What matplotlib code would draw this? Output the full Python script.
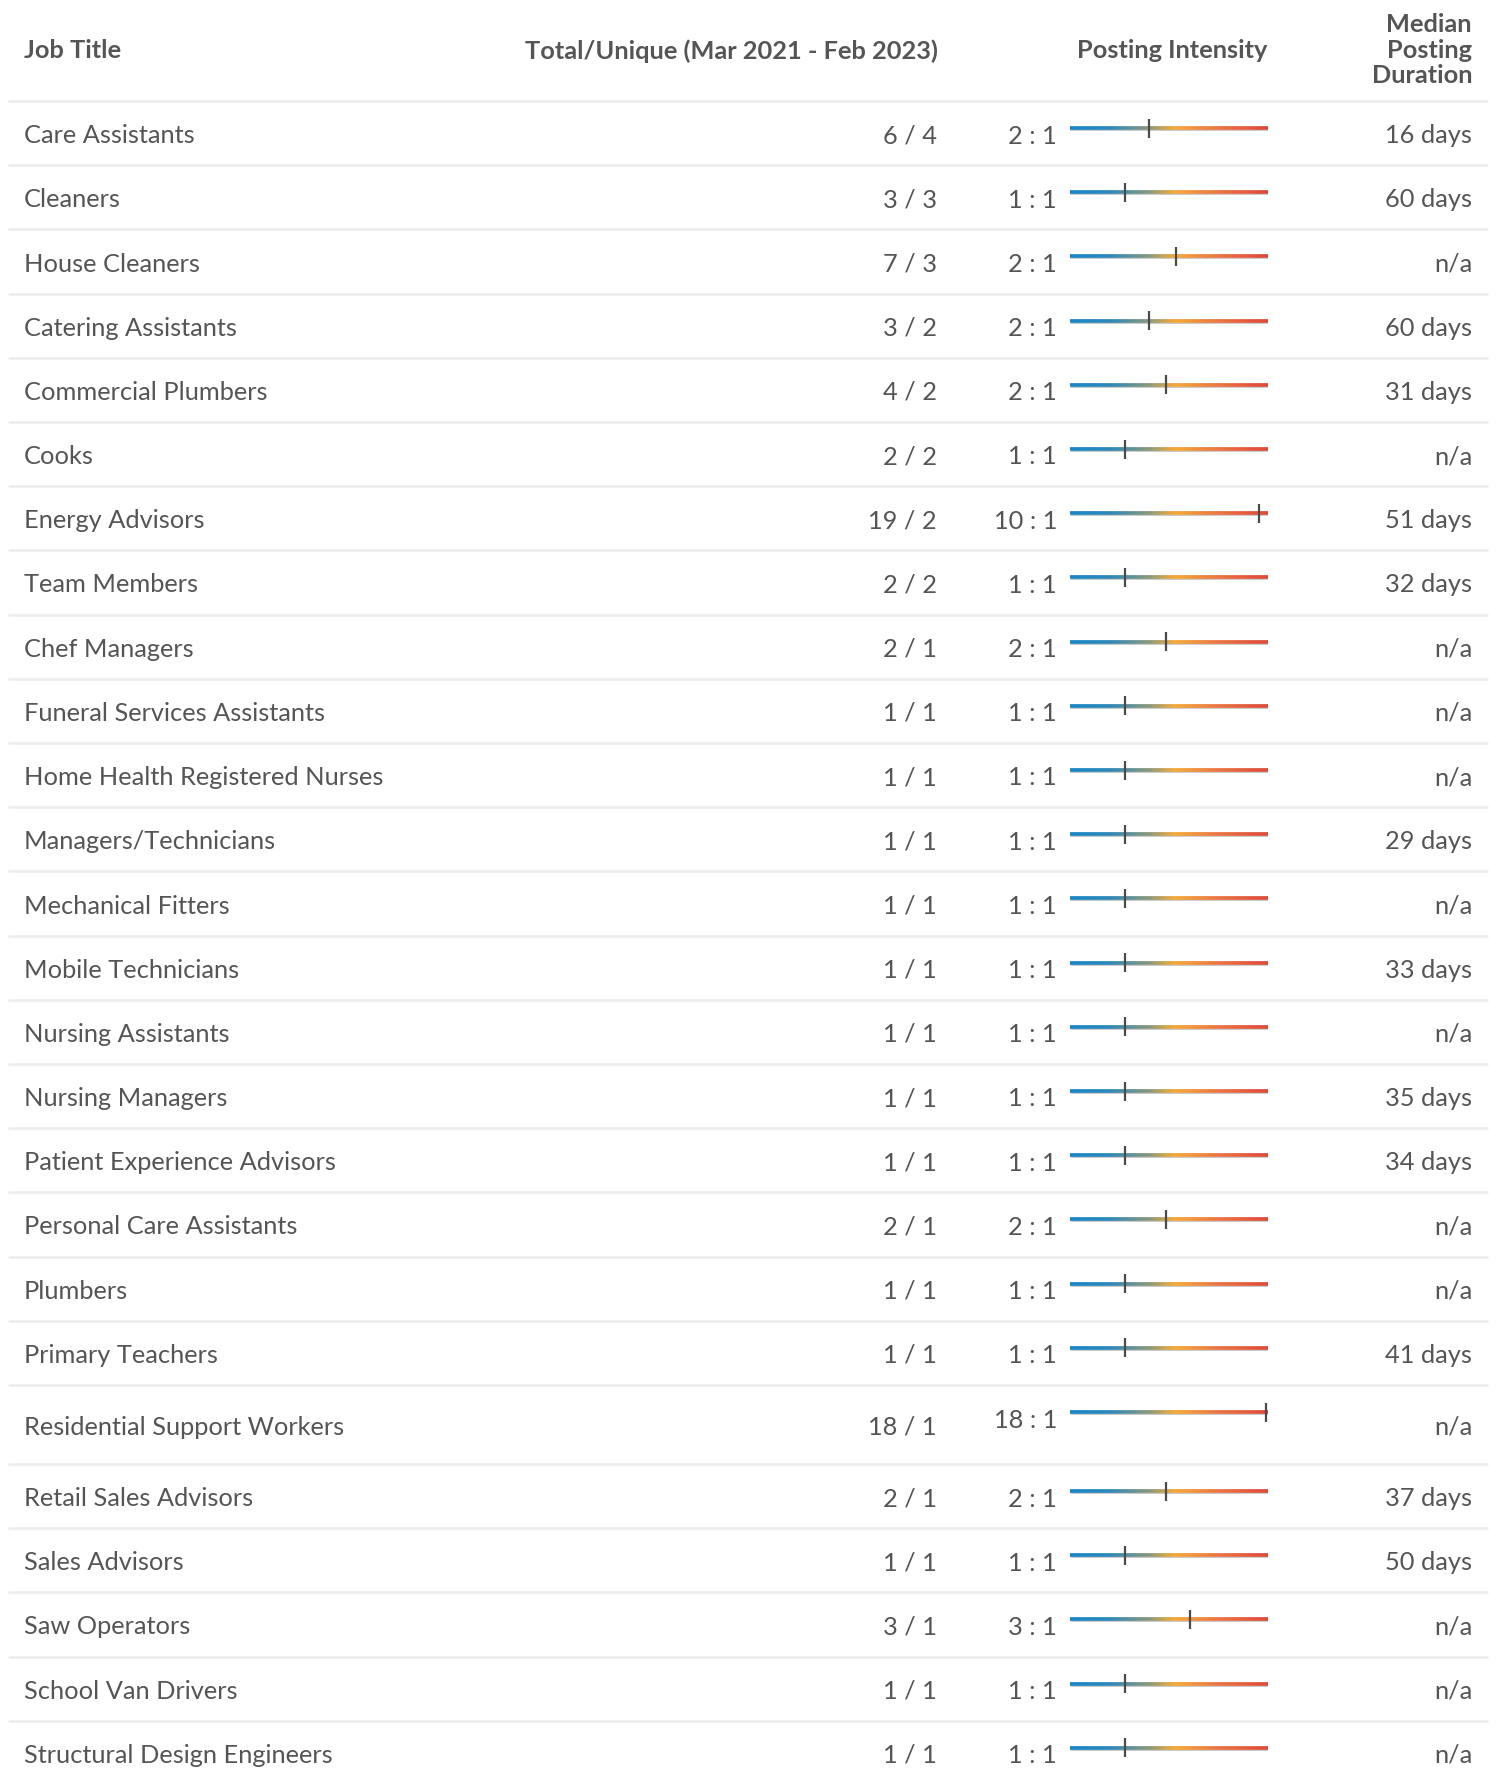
import math
import matplotlib
matplotlib.use("Agg")
import matplotlib.pyplot as plt
import numpy as np
from matplotlib.collections import LineCollection
from matplotlib.colors import LinearSegmentedColormap

# ---------------- data ----------------
job_titles = [
    "Care Assistants", "Cleaners", "House Cleaners", "Catering Assistants",
    "Commercial Plumbers", "Cooks", "Energy Advisors", "Team Members",
    "Chef Managers", "Funeral Services Assistants", "Home Health Registered Nurses",
    "Managers/Technicians", "Mechanical Fitters", "Mobile Technicians",
    "Nursing Assistants", "Nursing Managers", "Patient Experience Advisors",
    "Personal Care Assistants", "Plumbers", "Primary Teachers",
    "Residential Support Workers", "Retail Sales Advisors", "Sales Advisors",
    "Saw Operators", "School Van Drivers", "Structural Design Engineers",
]
total_postings = [6, 3, 7, 3, 4, 2, 19, 2, 2, 1, 1, 1, 1, 1, 1, 1, 1, 2, 1, 1, 18, 2, 1, 3, 1, 1]
unique_postings = [4, 3, 3, 2, 2, 2, 2, 2, 1, 1, 1, 1, 1, 1, 1, 1, 1, 1, 1, 1, 1, 1, 1, 1, 1, 1]
median_duration_days = [16, 60, None, 60, 31, None, 51, 32, None, None, None, 29, None, 33,
                        None, 35, 34, None, None, 41, None, 37, 50, None, None, None]

headers = ["Job Title", "Total/Unique (Mar 2021 - Feb 2023)", "Posting Intensity",
           ["Median", "Posting", "Duration"]]

# ---------------- layout ----------------
W, H = 1497, 1774
DPI = 100
plt.rcParams["font.family"] = ["Lato", "DejaVu Sans"]
TEXT = "#555555"
SEP = "#ececec"
FS = 18.3

fig = plt.figure(figsize=(W / DPI, H / DPI), dpi=DPI)
ax = fig.add_axes([0, 0, 1, 1])
ax.set_xlim(0, W)
ax.set_ylim(H, 0)
ax.axis("off")

bar_x0, bar_x1 = 1070, 1268
r_start, r_end = 0.395, 11.06
ax_int = fig.add_axes([bar_x0 / W, 0, (bar_x1 - bar_x0) / W, 1])
ax_int.set_xscale("log")
ax_int.set_xlim(r_start, r_end)
ax_int.set_ylim(H, 0)
ax_int.axis("off")

cmap = LinearSegmentedColormap.from_list(
    "intensity",
    [(0.0, "#1686cb"), (0.2, "#2a89ba"), (0.4, "#8a9a7a"), (0.53, "#f7aa36"),
     (0.75, "#ee7440"), (1.0, "#e0483a")])

# header
head_y = 51
ax.text(24, head_y, headers[0], ha="left", va="center", fontsize=FS, fontweight="bold", color=TEXT)
ax.text(938, head_y, headers[1], ha="right", va="center", fontsize=FS, fontweight="bold", color=TEXT)
ax.text(1267, head_y, headers[2], ha="right", va="center", fontsize=FS, fontweight="bold", color=TEXT)
for k, line in enumerate(headers[3]):
    ax.text(1472, 24.5 + 25.5 * k, line, ha="right", va="center", fontsize=FS, fontweight="bold", color=TEXT)

y = 102
ax.plot([8, 1488], [y, y], color=SEP, lw=1.8, solid_capstyle="butt")

row_h, tall_h = 64.2, 79
clip_r = 10.7
xs = np.geomspace(r_start, r_end, 300)
for title, tot, uni, med in zip(job_titles, total_postings, unique_postings, median_duration_days):
    ratio = tot / uni
    clipped = ratio > clip_r
    h = tall_h if clipped else row_h
    cy = y + h / 2 + 1.5
    ax.text(24, cy, title, ha="left", va="center", fontsize=FS, color=TEXT)
    ax.text(937, cy, f"{tot} / {uni}", ha="right", va="center", fontsize=FS, color=TEXT)
    ax.text(1472, cy, f"{med} days" if med is not None else "n/a", ha="right", va="center",
            fontsize=FS, color=TEXT)
    shown = int(math.floor(ratio + 0.5))
    ax.text(1057, y + 34, f"{shown} : 1", ha="right", va="center", fontsize=FS, color=TEXT)
    by = y + 27
    ax_int.plot([r_start, r_end], [by, by], color="#c8c8c8", lw=3.5, solid_capstyle="butt")
    pts = np.column_stack([xs, np.full_like(xs, by)])
    segs = np.stack([pts[:-1], pts[1:]], axis=1)
    fr = np.linspace(0, 1, len(segs))
    lc = LineCollection(segs, colors=cmap(fr), linewidths=2.6, capstyle="butt")
    ax_int.add_collection(lc)
    mr = min(ratio, clip_r)
    ax_int.plot([mr, mr], [by - 9.5, by + 9.5], color="#4a4a4a", lw=1.6, solid_capstyle="butt")
    y += h
    ax.plot([8, 1488], [y, y], color=SEP, lw=1.8, solid_capstyle="butt")

fig.savefig("out.png", dpi=DPI, facecolor="white")
